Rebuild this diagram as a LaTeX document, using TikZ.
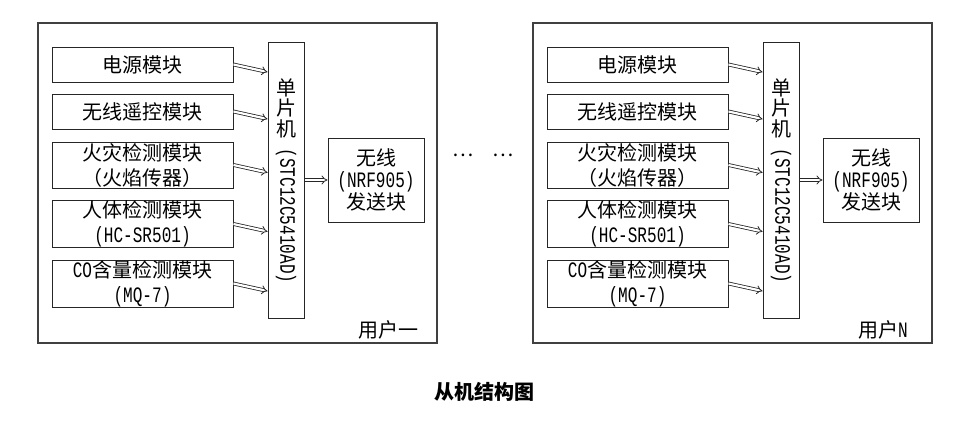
\documentclass[tikz,border=0pt]{standalone}
\usepackage{fontspec}
\setmainfont{Noto Sans CJK SC}
\newfontfamily\mono[Scale=1.1,FakeStretch=0.73]{Liberation Mono}
\usetikzlibrary{arrows.meta,calc}
\begin{document}
\begin{tikzpicture}[x=1pt,y=-1pt,
  font=\fontsize{20}{25}\selectfont,
  outer/.style={draw=black!75, line width=1.2pt},
  box/.style={draw=black!85, line width=1pt, inner sep=0pt, align=center},
  modbox/.style={box, minimum width=181pt},
  dbl/.style={draw=black!85, line width=0.8pt, double, double distance=2.2pt, -{Implies}},
  plain/.style={inner sep=0pt, align=center}]
\useasboundingbox (0,0) rectangle (962,423);
\foreach \g/\dx/\lab in {1/0/{用户一}, 2/495/{用户{\mono N}}}{
  \begin{scope}[xshift=\dx pt]
    \node[outer, inner sep=0pt, minimum width=399pt, minimum height=320pt] (frame-\g) at (237.5,183) {};
    \node[modbox, minimum height=35pt] (b1-\g) at (142.5,64.5) {电源模块};
    \node[modbox, minimum height=35pt] (b2-\g) at (142.5,111.5) {无线遥控模块};
    \node[modbox, minimum height=46pt] (b3-\g) at (142.5,165) {火灾检测模块\\（火焰传器）};
    \node[modbox, minimum height=46pt] (b4-\g) at (142.5,224) {人体检测模块\\{\mono(HC-SR501)}};
    \node[modbox, minimum height=47pt] (b5-\g) at (142.5,283.5) {{\mono CO}含量检测模块\\{\mono(MQ-7)}};
    \node[box, minimum width=36pt, minimum height=276pt] (mcu-\g) at (286,180) {};
    \node[plain, font=\fontsize{20}{20.5}\selectfont] (mcua-\g) at (286,108) {单\\片\\机};
    \node[plain, rotate=-90] (mcub-\g) at (286,216) {\mono(STC12C5410AD)};
    \node[box, minimum width=96pt, minimum height=84pt, font=\fontsize{20}{22}\selectfont] (wl-\g) at (376,180) {无线\\{\mono(NRF905)}\\发送块};
    \node[plain] (user-\g) at (388,330) {\lab};
    \foreach \i in {1,...,5}{
      \draw[dbl] (b\i-\g.east) -- ($(mcu-\g.west |- b\i-\g.east)+(0,7.5)$);
    }
    \draw[dbl] (mcu-\g.east |- wl-\g.west) -- (wl-\g.west);
  \end{scope}
}
\node[plain] (dots1) at (463,155) {…};
\node[plain] (dots2) at (503,155) {…};
\node[plain, font=\fontsize{20}{24}\bfseries] (title) at (484,392) {从机结构图};
\end{tikzpicture}
\end{document}
